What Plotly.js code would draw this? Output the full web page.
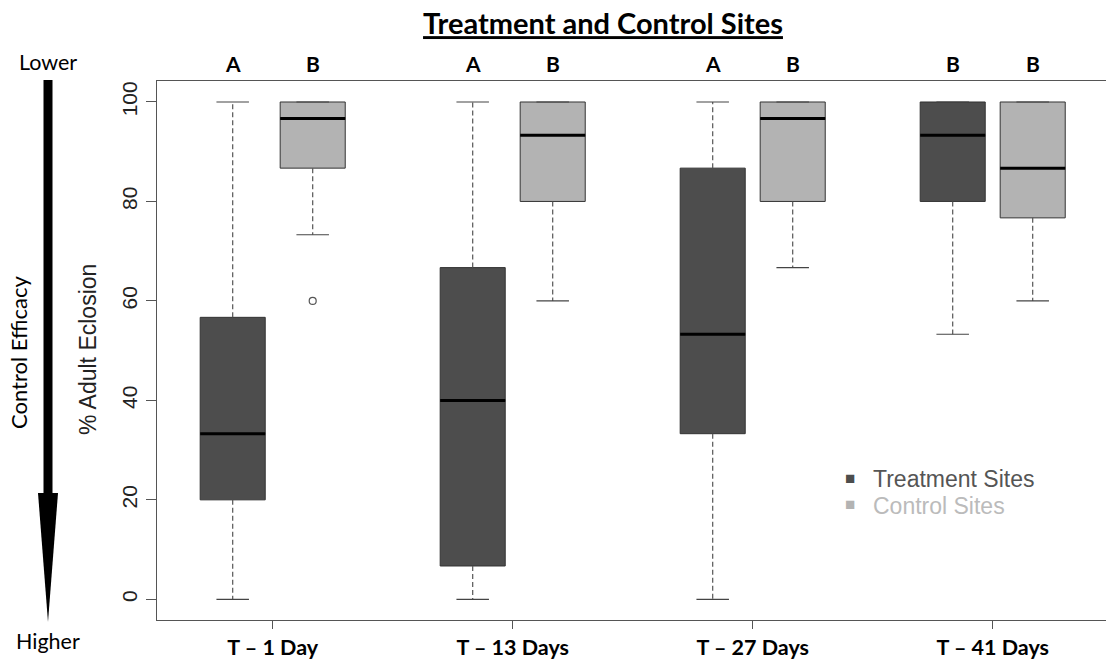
<!DOCTYPE html>
<html>
<head>
<meta charset="utf-8">
<script src="https://cdn.plot.ly/plotly-3.0.1.min.js"></script>
<style>html,body{margin:0;padding:0;background:#fff;}#chart{width:1106px;height:664px;}</style>
</head>
<body>
<div id="chart"></div>
<script>
// ---- data ----
const categories = ['T \u2013 1 Day', 'T \u2013 13 Days', 'T \u2013 27 Days', 'T \u2013 41 Days'];

const treatLower  = [0, 0, 0, 53.3];
const treatQ1     = [20, 6.7, 33.3, 80];
const treatMedian = [33.3, 40, 53.3, 93.3];
const treatQ3     = [56.7, 66.7, 86.7, 100];
const treatUpper  = [100, 100, 100, 100];
const treatLetters = ['A', 'A', 'A', 'B'];

const ctrlLower  = [73.3, 60, 66.7, 60];
const ctrlQ1     = [86.7, 80, 80, 76.7];
const ctrlMedian = [96.7, 93.3, 96.7, 86.7];
const ctrlQ3     = [100, 100, 100, 100];
const ctrlUpper  = [100, 100, 100, 100];
const ctrlLetters = ['B', 'B', 'B', 'B'];
const ctrlOutliers = [[60], [], [], []];

// ---- styling / layout helpers ----
const W = 1106, H = 664;
const M = {l: 157, r: 0, t: 81, b: 44};
const offset = 1 / 6;     // group offset in category units
const boxW = 0.271;       // full box width in category units
const capHalf = boxW / 4;
const treatFill = '#4d4d4d', ctrlFill = '#b3b3b3';
const calib = 'Lato, "Open Sans", sans-serif';
const helv = '"Liberation Sans", Arial, sans-serif';

function px2x(px) { return (px - M.l) / (W - M.l - M.r); }
function py2y(py) { return (H - M.b - py) / (H - M.t - M.b); }

const idx = categories.map((c, i) => i);
const treatX = idx.map(i => i - offset);
const ctrlX = idx.map(i => i + offset);

function boxTrace(name, xs, q1, med, q3, fill) {
  return {
    type: 'box', name: name, x: xs,
    q1: q1, median: med, q3: q3,
    lowerfence: q1, upperfence: q3,
    width: boxW, whiskerwidth: 0,
    fillcolor: fill,
    line: {color: '#333333', width: 1},
    boxpoints: false, hoverinfo: 'skip', showlegend: false
  };
}
function whiskerTrace(xs, q1, q3, lo, hi) {
  const x = [], y = [];
  xs.forEach((xv, i) => {
    x.push(xv, xv, null, xv, xv, null);
    y.push(q3[i], hi[i], null, q1[i], lo[i], null);
  });
  return {type: 'scatter', mode: 'lines', x: x, y: y,
    line: {color: '#555555', width: 1.2, dash: '5px,3px'},
    hoverinfo: 'skip', showlegend: false};
}
function capTrace(xs, lo, hi) {
  const x = [], y = [];
  xs.forEach((xv, i) => {
    x.push(xv - capHalf, xv + capHalf, null, xv - capHalf, xv + capHalf, null);
    y.push(hi[i], hi[i], null, lo[i], lo[i], null);
  });
  return {type: 'scatter', mode: 'lines', x: x, y: y,
    line: {color: '#444444', width: 1.2},
    hoverinfo: 'skip', showlegend: false};
}
function medianTrace(xs, med) {
  const x = [], y = [];
  xs.forEach((xv, i) => {
    x.push(xv - boxW / 2, xv + boxW / 2, null);
    y.push(med[i], med[i], null);
  });
  return {type: 'scatter', mode: 'lines', x: x, y: y,
    line: {color: '#000000', width: 3},
    hoverinfo: 'skip', showlegend: false};
}
const outX = [], outY = [];
ctrlOutliers.forEach((arr, i) => arr.forEach(v => { outX.push(ctrlX[i]); outY.push(v); }));

const data = [
  whiskerTrace(treatX, treatQ1, treatQ3, treatLower, treatUpper),
  whiskerTrace(ctrlX, ctrlQ1, ctrlQ3, ctrlLower, ctrlUpper),
  capTrace(treatX, treatLower, treatUpper),
  capTrace(ctrlX, ctrlLower, ctrlUpper),
  boxTrace('Treatment Sites', treatX, treatQ1, treatMedian, treatQ3, treatFill),
  boxTrace('Control Sites', ctrlX, ctrlQ1, ctrlMedian, ctrlQ3, ctrlFill),
  medianTrace(treatX, treatMedian),
  medianTrace(ctrlX, ctrlMedian),
  {type: 'scatter', mode: 'markers', x: outX, y: outY,
   marker: {symbol: 'circle-open', size: 7, color: '#555555', line: {width: 1.2}},
   hoverinfo: 'skip', showlegend: false}
];

const annotations = [];
treatX.forEach((xv, i) => annotations.push({x: xv, y: py2y(63), xref: 'x', yref: 'paper',
  text: treatLetters[i], showarrow: false, xanchor: 'center', yanchor: 'middle',
  font: {family: calib, size: 21, color: '#000', weight: 'bold'}}));
ctrlX.forEach((xv, i) => annotations.push({x: xv, y: py2y(63), xref: 'x', yref: 'paper',
  text: ctrlLetters[i], showarrow: false, xanchor: 'center', yanchor: 'middle',
  font: {family: calib, size: 21, color: '#000', weight: 'bold'}}));
// y axis title
annotations.push({x: px2x(88), y: py2y(350), xref: 'paper', yref: 'paper', text: '% Adult Eclosion',
  textangle: -90, showarrow: false, xanchor: 'center', yanchor: 'middle',
  font: {family: helv, size: 23, color: '#222'}});
// left efficacy labels
annotations.push({x: px2x(48), y: py2y(62), xref: 'paper', yref: 'paper', text: 'Lower',
  showarrow: false, xanchor: 'center', yanchor: 'middle', font: {family: calib, size: 21.5, color: '#000'}});
annotations.push({x: px2x(48), y: py2y(641), xref: 'paper', yref: 'paper', text: 'Higher',
  showarrow: false, xanchor: 'center', yanchor: 'middle', font: {family: calib, size: 21.5, color: '#000'}});
annotations.push({x: px2x(18), y: py2y(352), xref: 'paper', yref: 'paper', text: 'Control Efficacy',
  textangle: -90, showarrow: false, xanchor: 'center', yanchor: 'middle', font: {family: calib, size: 22, color: '#000'}});
// legend
annotations.push({x: px2x(843), y: py2y(478), xref: 'paper', yref: 'paper', text: '\u25A0',
  showarrow: false, xanchor: 'left', yanchor: 'middle', font: {family: helv, size: 17, color: treatFill}});
annotations.push({x: px2x(871), y: py2y(479), xref: 'paper', yref: 'paper', text: 'Treatment Sites',
  showarrow: false, xanchor: 'left', yanchor: 'middle', font: {family: helv, size: 23, color: '#555555'}});
annotations.push({x: px2x(843), y: py2y(505), xref: 'paper', yref: 'paper', text: '\u25A0',
  showarrow: false, xanchor: 'left', yanchor: 'middle', font: {family: helv, size: 17, color: ctrlFill}});
annotations.push({x: px2x(871), y: py2y(506), xref: 'paper', yref: 'paper', text: 'Control Sites',
  showarrow: false, xanchor: 'left', yanchor: 'middle', font: {family: helv, size: 23, color: '#bbbbbb'}});

const shapes = [
  {type: 'rect', xref: 'paper', yref: 'paper', x0: px2x(43.5), x1: px2x(52.5), y0: py2y(80), y1: py2y(496),
   fillcolor: '#000', line: {width: 0}},
  {type: 'path', xref: 'paper', yref: 'paper',
   path: 'M ' + px2x(38) + ' ' + py2y(493) + ' L ' + px2x(58) + ' ' + py2y(493) + ' L ' + px2x(48) + ' ' + py2y(622) + ' Z',
   fillcolor: '#000', line: {width: 0}}
];

const layout = {
  width: W, height: H,
  margin: M,
  paper_bgcolor: '#fff', plot_bgcolor: '#fff',
  showlegend: false,
  title: {text: '<u>Treatment and Control Sites</u>', x: 603 / W, xanchor: 'center', xref: 'container',
          y: 1 - 24 / H, yanchor: 'middle', yref: 'container',
          font: {family: calib, size: 29, color: '#000', weight: 'bold'}},
  xaxis: {
    range: [-0.4821, 3.4721], tickvals: idx, ticktext: categories,
    showgrid: false, zeroline: false, showline: true, linecolor: '#555555', linewidth: 1.2, mirror: true,
    ticks: 'outside', ticklen: 8, tickcolor: '#555555', tickwidth: 1,
    tickfont: {family: calib, size: 21.5, color: '#000', weight: 'bold'}
  },
  yaxis: {
    range: [-4.16, 104.22], tickvals: [0, 20, 40, 60, 80, 100],
    showgrid: false, zeroline: false, showline: true, linecolor: '#555555', linewidth: 1.2,
    ticks: 'outside', ticklen: 10, tickcolor: '#555555', tickwidth: 1, tickangle: -90,
    tickfont: {family: helv, size: 21, color: '#222'}
  },
  annotations: annotations,
  shapes: shapes
};

Plotly.newPlot('chart', data, layout, {staticPlot: true});
</script>
</body>
</html>
